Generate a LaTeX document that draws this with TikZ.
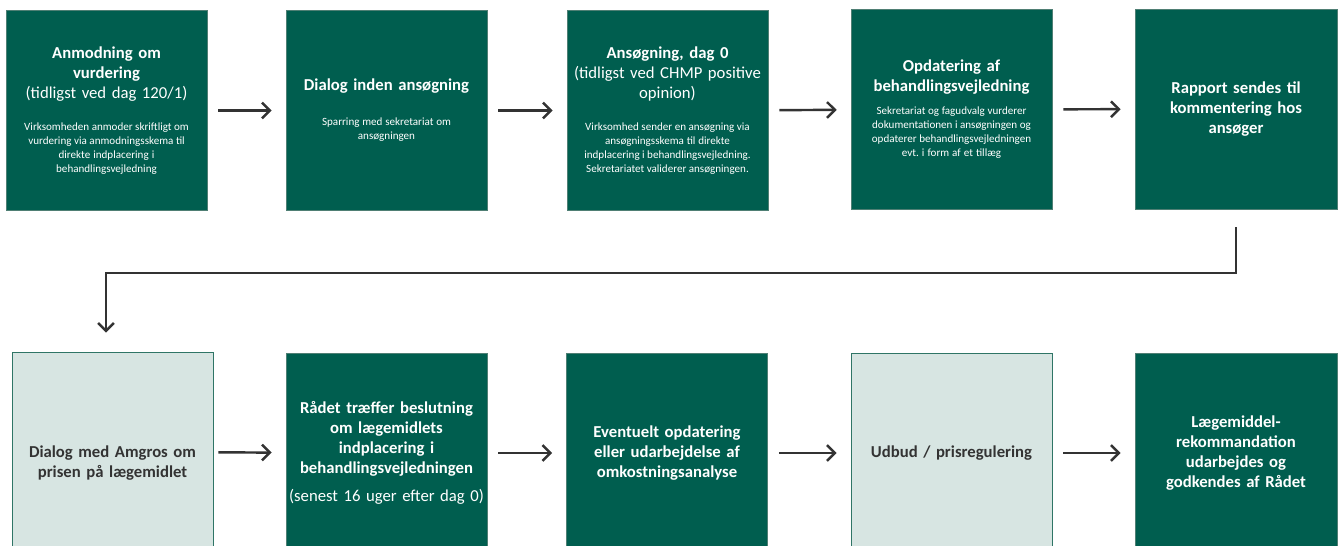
\documentclass[tikz,border=0pt]{standalone}
\usepackage{fontspec}
\setmainfont{Carlito}
\usetikzlibrary{arrows.meta}

\definecolor{raadgroen}{HTML}{005E4F}
\definecolor{raadkant}{HTML}{4F7F74}
\definecolor{raadlys}{HTML}{D7E5E2}
\definecolor{lyskant}{HTML}{2F7566}
\definecolor{pilgraa}{HTML}{333333}

\newcommand{\smaatekst}{\fontsize{6.3}{8}\selectfont\frenchspacing\spaceskip=0.2em plus 0.05em}

\tikzset{
  trin/.style={rectangle, fill=raadgroen, draw=raadkant, line width=0.4pt,
    minimum width=4.02cm, minimum height=4cm, text width=3.95cm, align=center,
    inner sep=0pt, text=white, font=\fontsize{9.5}{11.4}\selectfont},
  lystrin/.style={trin, fill=raadlys, draw=lyskant, text=pilgraa},
  pil/.style={draw=pilgraa, line width=1.4pt,
    -{Straight Barb[length=4.5pt,width=9pt]},
    shorten <=0.22cm, shorten >=0.28cm},
}

\begin{document}
\begin{tikzpicture}[x=0.02cm, y=-0.02cm]
    % --- billedets ramme ---
    \useasboundingbox (0,0) rectangle (1339,546);
    \clip (0,0) rectangle (1339,546);

    % --- oeverste raekke ---
    \node[trin] (anmodning) at (106.5,110.5) {%
      \textbf{Anmodning om\\ vurdering}\\ (tidligst ved dag 120/1)\par
      \vspace{10pt}
      {\smaatekst Virksomheden anmoder skriftligt om\\ vurdering via anmodningsskema til\\
       direkte indplacering i\\ behandlingsvejledning\par}};
    \node[trin] (dialog) at (386.5,110.5) {%
      \textbf{Dialog inden ansøgning}\par
      \vspace{12pt}
      {\smaatekst Sparring med sekretariat om\\ ansøgningen\par}};
    \node[trin] (ansoegning) at (667.5,110.5) {%
      \textbf{Ansøgning, dag 0}\\ (tidligst ved CHMP positive\\ opinion)\par
      \vspace{10pt}
      {\smaatekst Virksomhed sender en ansøgning via\\ ansøgningsskema til direkte\\
       indplacering i behandlingsvejledning.\\ Sekretariatet validerer ansøgningen.\par}};
    \node[trin] (opdatering) at (951.5,109.5) {%
      \textbf{Opdatering af\\ behandlingsvejledning}\par
      \vspace{5pt}
      {\smaatekst Sekretariat og fagudvalg vurderer\\ dokumentationen i ansøgningen og\\
       opdaterer behandlingsvejledningen\\ evt. i form af et tillæg\par}};
    \node[trin, minimum width=4.04cm] (rapport) at (1236,109) {%
      \textbf{Rapport sendes til\\ kommentering hos\\ ansøger}};

    % --- nederste raekke ---
    \node[lystrin] (amgros) at (112.5,452) {%
      \mbox{}\\[8pt]
      \textbf{Dialog med Amgros om\\ prisen på lægemidlet}};
    \node[trin] (beslutning) at (386.5,453) {%
      \textbf{Rådet træffer beslutning\\ om lægemidlets\\ indplacering i\\
       behandlingsvejledningen}\par
      \vspace{4.5pt}
      (senest 16 uger efter dag 0)};
    \node[trin] (omkostning) at (667,453) {%
      \textbf{Eventuelt opdatering\\ eller udarbejdelse af\\ omkostningsanalyse}};
    \node[lystrin] (udbud) at (951.5,453) {\textbf{Udbud / prisregulering}};
    \node[trin, minimum width=4.04cm] (rekommandation) at (1236,453) {%
      \textbf{Lægemiddel-\\ rekommandation\\ udarbejdes og\\ godkendes af Rådet}};

    % --- pile ---
    \draw[pil] (anmodning) -- (dialog);
    \draw[pil] (dialog) -- (ansoegning);
    \draw[pil] (ansoegning) -- (opdatering);
    \draw[pil] (opdatering) -- (rapport);

    % knaek mellem raekkerne
    \coordinate (knaek) at (106,273);
    \draw[pil, shorten <=0pt, shorten >=0pt]
      ([yshift=-0.36cm]rapport.south) |- (knaek)
      -- ([yshift=0.38cm]knaek |- amgros.north);

    \draw[pil, shorten <=0.1cm] (amgros) -- (beslutning);
    \draw[pil] (beslutning) -- (omkostning);
    \draw[pil] (omkostning) -- (udbud);
    \draw[pil] (udbud) -- (rekommandation);

\end{tikzpicture}
\end{document}
